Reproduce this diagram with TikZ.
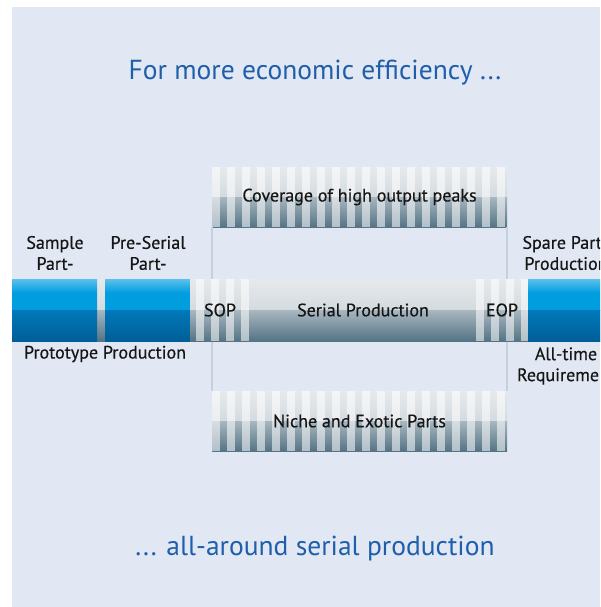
\documentclass[tikz,border=0pt]{standalone}
\usepackage{fontspec}
\setmainfont{PT Sans}
\newfontfamily\lblfont{PT Sans}[FakeBold=0.5]
\definecolor{bgcol}{HTML}{E1E8F4}
\definecolor{guidecol}{HTML}{C5D2DE}
\definecolor{headblue}{HTML}{1F5EAA}
\definecolor{blueA}{HTML}{5CC0EC}
\definecolor{blueB}{HTML}{009EDF}
\definecolor{blueC}{HTML}{0079BA}
\definecolor{blueD}{HTML}{005E97}
\definecolor{greyA}{HTML}{E6EAEC}
\definecolor{greyB}{HTML}{C0CBD1}
\definecolor{greyC}{HTML}{A8B7C0}
\definecolor{greyD}{HTML}{557485}
\definecolor{textcol}{HTML}{161616}
% upper half of the blue parts: light only at its very top
\pgfdeclareverticalshading{bluehigh}{100bp}{color(0bp)=(blueB); color(64bp)=(blueB); color(75bp)=(blueA); color(100bp)=(blueA)}

\begin{document}
\begin{tikzpicture}[x=1pt, y=-1pt,
    twotone/.style n args={4}{path picture={
        \shade[#1] (path picture bounding box.north west) rectangle (path picture bounding box.east);
        \shade[top color=#3, bottom color=#4] (path picture bounding box.west) rectangle (path picture bounding box.south east);}},
    seg/.style={inner sep=0pt, minimum height=62pt, text=textcol, font=\lblfont\fontsize{18}{21}\selectfont},
    blueseg/.style={seg, twotone={shading=bluehigh}{}{blueC}{blueD}},
    greyseg/.style={seg, twotone={top color=greyA, bottom color=greyB}{}{greyC}{greyD}},
    stripy/.style n args={2}{seg, path picture={
        \shade[top color=greyA, bottom color=greyB] (path picture bounding box.north west) rectangle (path picture bounding box.east);
        \shade[top color=greyC, bottom color=greyD] (path picture bounding box.west) rectangle (path picture bounding box.south east);
        \foreach \k in {1,...,#2}
          \fill[white, opacity=0.55] ([xshift={#1+15*(\k-1)}]path picture bounding box.north west) rectangle ([xshift={#1+15*(\k-1)+7.5}]path picture bounding box.south west);}},
    lbl/.style={align=center, text=textcol, font=\lblfont\fontsize{18}{21}\selectfont, inner sep=0pt},
    headline/.style={text=headblue, font=\fontsize{27.5}{30}\selectfont, inner sep=0pt},
    guide/.style={draw=guidecol, line width=2pt}]

    \clip (0,0) rectangle (600,607);
    \fill[bgcol] (12,7) rectangle (600,607);

    % Headlines
    \node[headline] (title) at (315,73) {For more economic efficiency ...};
    \node[headline] (subtitle) at (315,549) {... all-around serial production};

    % Boxes above and below
    \node[stripy={0}{20}, minimum width=295pt, minimum height=60pt] (peaks) at (359.5,197) {Coverage of high output peaks};
    \node[stripy={0}{20}, minimum width=295pt, minimum height=60pt] (niche) at (359.5,421) {Niche and Exotic Parts};

    \draw[guide] (peaks.south west) -- (niche.north west);
    \draw[guide] (peaks.south east) -- (niche.north east);

    % Bar
    \node[greyseg, minimum width=600pt] (bar) at (312,310) {};
    \node[blueseg, minimum width=85pt] (sample) at (54.5,310) {};
    \node[blueseg, minimum width=85pt] (preserial) at (147.5,310) {};
    \node[stripy={6}{4}, minimum width=60pt] (sop) at (220,310) {SOP};
    \node[greyseg, minimum width=226pt] (serial) at (363,310) {Serial Production};
    \node[stripy={0}{4}, minimum width=52pt] (eop) at (502,310) {EOP};
    \node[blueseg, minimum width=90pt] (spare) at (573,310) {};

    % Labels
    \node[lbl] (samplelbl) at (55,253) {Sample\\Part-};
    \node[lbl] (preseriallbl) at (148,253) {Pre-Serial\\Part-};
    \node[lbl] (protolbl) at (105,354) {Prototype Production};
    \node[lbl] (sparelbl) at (566,253) {Spare Parts\\Production};
    \node[lbl] (alltimelbl) at (566,366) {All-time\\Requirement};

  \end{tikzpicture}
\end{document}
